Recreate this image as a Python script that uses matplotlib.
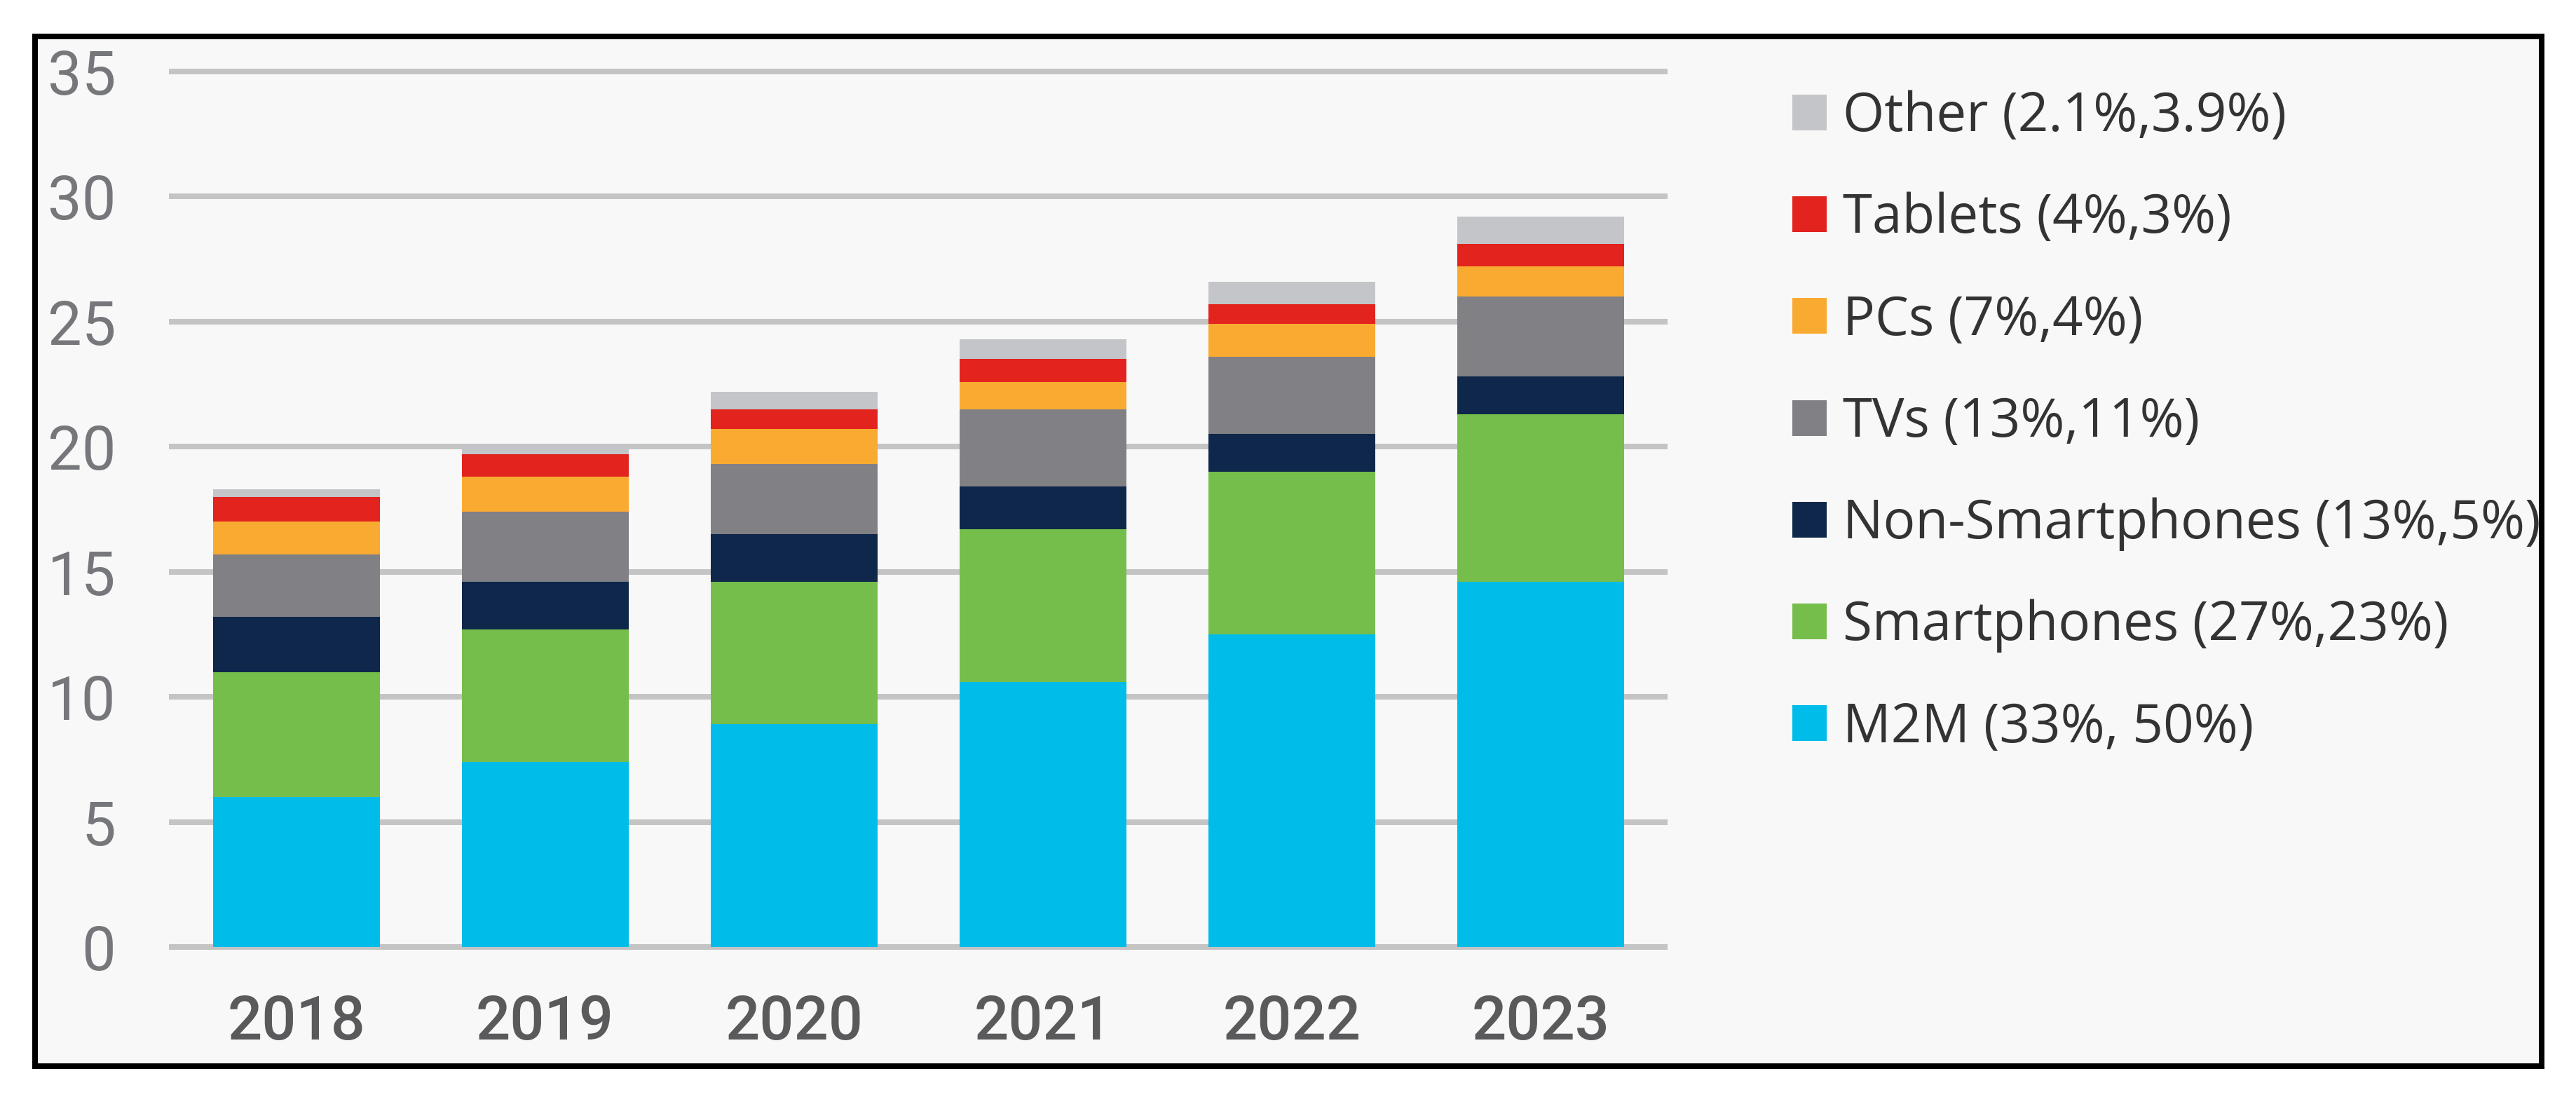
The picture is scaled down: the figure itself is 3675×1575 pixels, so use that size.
import matplotlib
matplotlib.use('Agg')
import matplotlib.pyplot as plt
from matplotlib.patches import Rectangle
import numpy as np

# values (billions of devices / connections)
years = ['2018', '2019', '2020', '2021', '2022', '2023']
m2m = [6.0, 7.4, 8.9, 10.6, 12.5, 14.6]
smartphones = [5.0, 5.3, 5.7, 6.1, 6.5, 6.7]
non_smartphones = [2.2, 1.9, 1.9, 1.7, 1.5, 1.5]
tvs = [2.5, 2.8, 2.8, 3.1, 3.1, 3.2]
pcs = [1.3, 1.4, 1.4, 1.1, 1.3, 1.2]
tablets = [1.0, 0.9, 0.8, 0.9, 0.8, 0.9]
other = [0.3, 0.4, 0.7, 0.8, 0.9, 1.1]

labels = ['M2M (33%, 50%)', 'Smartphones (27%,23%)', 'Non-Smartphones (13%,5%)',
          'TVs (13%,11%)', 'PCs (7%,4%)', 'Tablets (4%,3%)', 'Other (2.1%,3.9%)']
series = [m2m, smartphones, non_smartphones, tvs, pcs, tablets, other]
colors = ['#00BCE8', '#75BE4B', '#0E274B', '#808085', '#F9AA31', '#E2231E', '#C4C5C8']

fig = plt.figure(figsize=(14.7, 6.3), dpi=250, facecolor='white')

# light panel with black frame, behind the axes
fig.patches.append(Rectangle((0.0136, 0.0343), 0.9731, 0.9327, transform=fig.transFigure,
                             facecolor='#f8f8f8', edgecolor='black', linewidth=2.3, zorder=-5))

ax = fig.add_axes([0.0667, 0.1422, 0.5796, 0.7930])
ax.patch.set_alpha(0)

x = np.arange(len(years))
bottom = np.zeros(len(years))
bars = []
for vals, col, lab in zip(series, colors, labels):
    b = ax.bar(x, vals, width=0.67, bottom=bottom, color=col, label=lab, zorder=3)
    bars.append(b)
    bottom += np.array(vals)

ax.set_xlim(-0.5, len(years) - 0.5)
ax.set_ylim(0, 35)
ax.set_yticks(range(0, 36, 5))
ax.set_xticks(x)
ax.set_xticklabels(years)

ax.yaxis.grid(True, color='#c4c4c4', linewidth=2.3, zorder=1)
for gl in ax.get_ygridlines():
    gl.set_clip_on(False)
ax.set_axisbelow(True)

for s in ax.spines.values():
    s.set_visible(False)

ax.tick_params(axis='y', length=0, pad=23, labelsize=25, labelcolor='#76777b')
ax.tick_params(axis='x', length=0, pad=19, labelsize=25, labelcolor='#5a5a5c')
for t in ax.get_yticklabels():
    t.set_fontfamily('Roboto')
    t.set_fontweight('normal')
for t in ax.get_xticklabels():
    t.set_fontfamily('Roboto')
    t.set_fontweight('medium')

handles = [b[0] for b in bars][::-1]
fig.legend(handles, labels[::-1], loc='upper left', bbox_to_anchor=(0.677, 0.962),
           frameon=False, prop={'family': 'Open Sans', 'size': 22},
           handlelength=0.65, handleheight=0.65,
           handletextpad=0.3, labelspacing=0.9, labelcolor='#333333')

fig.savefig('out.png', dpi=250, facecolor='white')
